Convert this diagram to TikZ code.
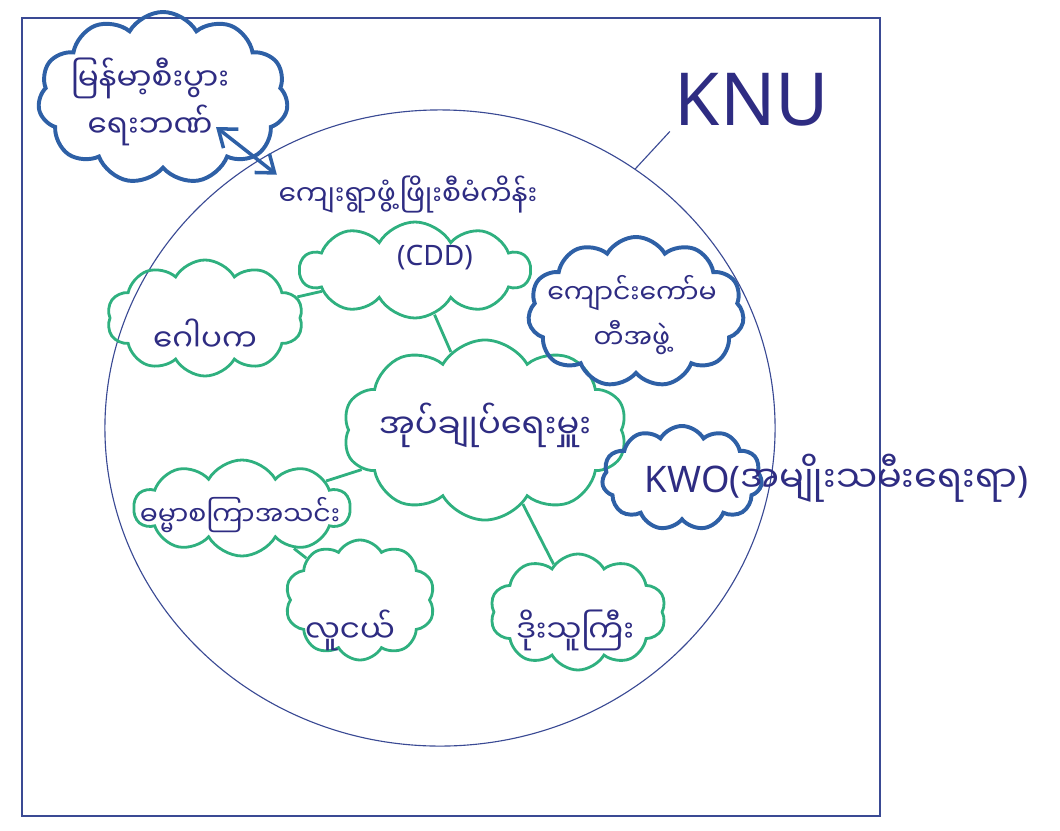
\documentclass[tikz,border=0pt]{standalone}
\usepackage{fontspec}
\setmainfont{Noto Sans}
\newfontfamily\myan[Script=Myanmar]{Noto Sans Myanmar UI}
\usepackage{xcolor}
\usepackage{tikz}
\usetikzlibrary{arrows.meta,shapes.symbols,shapes.geometric}

\definecolor{ink}{HTML}{2E2C82}
\definecolor{penline}{HTML}{3A4A94}
\definecolor{greenpen}{HTML}{2FB07F}
\definecolor{bluepen}{HTML}{2E60A6}

\tikzset{
  greencloud/.style={cloud, draw=greenpen, line width=2pt, cloud puffs=10, cloud puff arc=120, inner sep=0pt},
  bluecloud/.style={cloud, draw=bluepen, line width=2.8pt, cloud puffs=11, cloud puff arc=120, inner sep=0pt},
  mmtext/.style={text=ink, font=\myan\fontsize{22}{34}\selectfont, align=center, inner sep=1pt},
  neck/.style={draw=greenpen, line width=2pt},
}

\begin{document}
\begin{tikzpicture}[x=0.025cm, y=-0.025cm]
\useasboundingbox (0,0) rectangle (1060,830);

%%    FRAME    %%
\node[draw=penline, line width=1pt, minimum width=21.45cm, minimum height=19.95cm, inner sep=0pt] (frame) at (451,417) {};
\node[draw=penline, line width=0.8pt, ellipse, minimum width=16.75cm, minimum height=15.9cm, inner sep=0pt] (knu) at (440,428) {};
\node[text=ink, font=\fontsize{52}{58}\selectfont] (knutext) at (752,100) {KNU};

%%    CLOUDS    %%
\node[bluecloud, minimum width=6.25cm, minimum height=4.3cm] (bank) at (163,98) {};
\node[greencloud, minimum width=5.75cm, minimum height=2.4cm] (cdd) at (415,270) {};
\node[greencloud, minimum width=4.9cm, minimum height=2.9cm] (gawpaka) at (205,318) {};
\node[greencloud, minimum width=7.1cm, minimum height=4.5cm] (admin) at (485,430) {};
\node[bluecloud, minimum width=5.4cm, minimum height=3.75cm] (school) at (636,312) {};
\node[bluecloud, minimum width=4cm, minimum height=2.6cm] (kwo) at (682,478) {};
\node[greencloud, minimum width=5.4cm, minimum height=2.4cm] (dhamma) at (242,508) {};
\node[greencloud, minimum width=3.75cm, minimum height=3cm] (youth) at (360,600) {};
\node[greencloud, minimum width=4.4cm, minimum height=2.9cm] (headman) at (578,612) {};

%%    TEXTS    %%
\node[mmtext] (banktxt) at (150,102) {မြန်မာ့စီးပွား\\ရေးဘဏ်};
\node[mmtext, font=\myan\fontsize{20}{30}\selectfont] (cddtxt) at (408,195) {ကျေးရွာဖွံ့ဖြိုးစီမံကိန်း};
\node[text=ink, font=\fontsize{20}{24}\selectfont] (cddabbr) at (435,258) {(CDD)};
\node[mmtext] (gawtxt) at (205,335) {ဂေါပက};
\node[mmtext, font=\myan\fontsize{24}{30}\selectfont] (admintxt) at (485,425) {အုပ်ချုပ်ရေးမှူး};
\node[mmtext, font=\myan\fontsize{19}{32}\selectfont] (schooltxt) at (632,315) {ကျောင်းကော်မ\\တီအဖွဲ့};
\node[text=ink, font=\fontsize{26}{30}\selectfont, anchor=west] (kwotxt) at (640,478) {KWO({\myan အမျိုးသမီးရေးရာ})};
\node[mmtext, font=\myan\fontsize{19}{30}\selectfont] (dhammatxt) at (240,515) {ဓမ္မာစကြာအသင်း};
\node[mmtext] (youthtxt) at (350,630) {လူငယ်};
\node[mmtext] (headtxt) at (575,630) {ဒိုးသူကြီး};

%%    ARROWS    %%
\coordinate (bankend) at (216,127);
\draw[bluepen, line width=2.5pt, {Straight Barb[length=4mm,width=6mm]}-{Straight Barb[length=4mm,width=6mm]}] (bankend) -- (cddtxt.north west);
\draw[penline, line width=0.8pt] (knu.53) -- (knutext.south west);
\draw[neck] (cdd) -- (gawpaka);
\draw[neck] (cdd) -- (admin);
\draw[neck] (admin) -- (dhamma);
\draw[neck] (dhamma) -- (youth);
\draw[neck] (admin) -- (headman);

\end{tikzpicture}
\end{document}
